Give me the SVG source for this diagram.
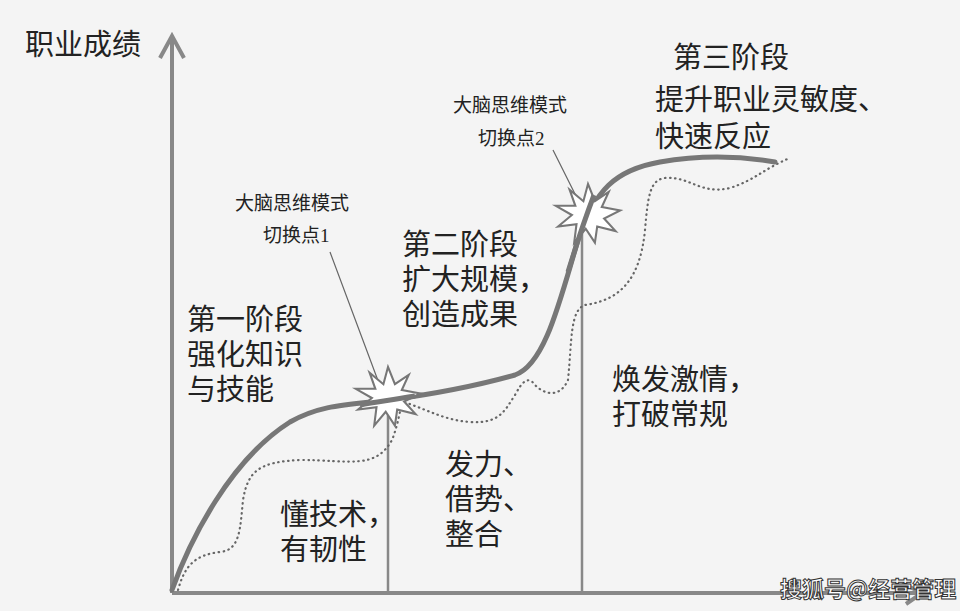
<svg xmlns="http://www.w3.org/2000/svg" width="960" height="611" viewBox="0 0 960 611">
<style>
.t{font-family:"Liberation Serif","Noto Sans CJK SC",serif;fill:#222;font-size:29px}
.s{font-family:"Liberation Serif","Noto Sans CJK SC",serif;fill:#222;font-size:19px}
.ax{stroke:#888;stroke-width:4;fill:none}
.v{stroke:#888;stroke-width:2.5;fill:none}
.burst{fill:#fff;stroke:#777;stroke-width:1.8}
</style>
<rect width="960" height="611" fill="#f4f4f4"/>
<g id="axes">
<path class="ax" d="M172,593 V38 M160,58 L172,36 L184,58"/>
<path class="ax" d="M172,593 H920 M902,583 L922,593 L906,604"/>
</g>
<g id="connectors">
<path class="v" d="M388,405 V593 M582,215 V593"/>
<path stroke="#666" stroke-width="1.2" fill="none" d="M330,252 L380,386 M553,150 L578,200"/>
<path fill="none" stroke="#666" stroke-width="2.2" stroke-dasharray="0.5,4.5" stroke-linecap="round" d="M178,590 C185,565 195,555 220,552 C240,550 240,530 243,500 C248,470 260,462 300,460 C350,460 375,470 392,440 C398,425 400,410 403,398 M395,400 C420,405 440,420 470,422 C500,424 505,410 515,395 C522,382 528,375 535,385 C545,395 560,398 568,380 C572,340 570,310 585,305 C620,300 640,280 645,230 C648,195 650,180 665,178 C690,176 700,195 730,188 C755,180 765,168 790,158"/>
<path fill="none" stroke="#777" stroke-width="5" stroke-linecap="round" d="M172,590 C190,540 230,460 290,422 C320,405 345,405 390,400 C440,393 480,385 515,375 C545,365 560,300 578,240 C595,190 615,170 660,162 C700,155 740,156 775,162"/>
</g>
<g id="burst1"><polygon class="burst" transform="translate(388,398) scale(1.15)" points="0,-27 6,-12 18,-20 12,-7 28,-4 14,3 24,14 8,10 6,24 -2,12 -12,24 -10,8 -26,10 -14,0 -28,-8 -11,-8 -16,-22 -4,-12"/></g>
<g id="burst2"><polygon class="burst" transform="translate(588,215) scale(1.15)" points="0,-27 6,-12 18,-20 12,-7 28,-4 14,3 24,14 8,10 6,24 -2,12 -12,24 -10,8 -26,10 -14,0 -28,-8 -11,-8 -16,-22 -4,-12"/></g>
<g id="curve-top"><path fill="none" stroke="#777" stroke-width="5" d="M360,405 C375,402 385,401 415,396 M568,272 C575,250 580,232 594,195"/></g>
<g id="labels">
<text class="t" x="25" y="55">职业成绩</text>
<text class="t" x="673" y="68">第三阶段</text>
<text class="t" x="655" y="110">提升职业灵敏度、</text>
<text class="t" x="655" y="147">快速反应</text>
<text class="s" x="453" y="112">大脑思维模式</text>
<text class="s" x="478" y="145">切换点2</text>
<text class="s" x="235" y="210">大脑思维模式</text>
<text class="s" x="263" y="242">切换点1</text>
<text class="t" x="402" y="255">第二阶段</text>
<text class="t" x="402" y="290">扩大规模，</text>
<text class="t" x="402" y="325">创造成果</text>
<text class="t" x="187" y="330">第一阶段</text>
<text class="t" x="187" y="365">强化知识</text>
<text class="t" x="187" y="400">与技能</text>
<text class="t" x="612" y="390">焕发激情，</text>
<text class="t" x="612" y="425">打破常规</text>
<text class="t" x="445" y="475">发力、</text>
<text class="t" x="445" y="510">借势、</text>
<text class="t" x="445" y="545">整合</text>
<text class="t" x="280" y="525">懂技术，</text>
<text class="t" x="280" y="560">有韧性</text>
<text x="780" y="597" style="font-family:'Noto Sans CJK SC',sans-serif;font-size:22px;font-weight:bold;fill:#fff;stroke:#333;stroke-width:1">搜狐号@经营管理</text>
</g>
</svg>
